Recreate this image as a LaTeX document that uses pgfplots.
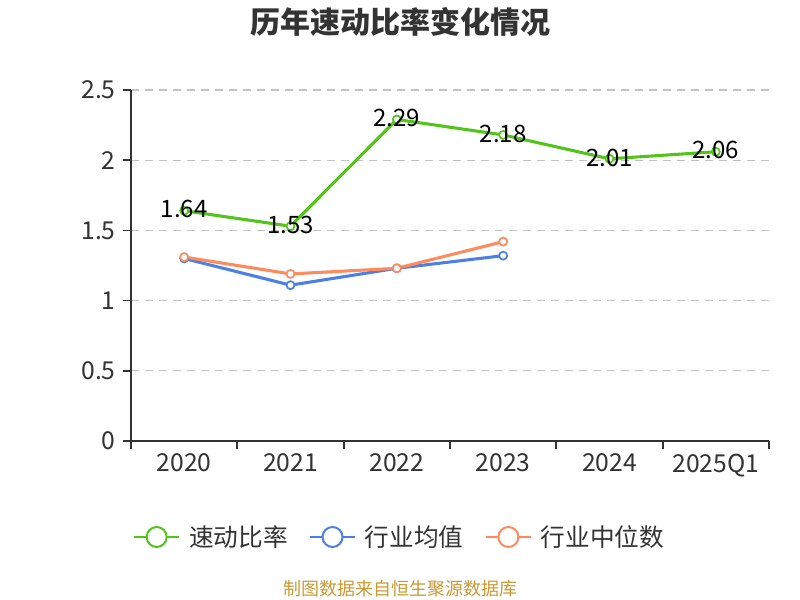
\documentclass[border=0pt]{standalone}
\usepackage{fontspec}
\setmainfont{Noto Sans CJK SC}
\usepackage{pgfplots}
\pgfplotsset{compat=1.18}
\definecolor{cgreen}{RGB}{82,196,26}
\definecolor{cblue}{RGB}{77,128,230}
\definecolor{corange}{RGB}{255,138,92}
\definecolor{ctext}{RGB}{51,51,51}
\definecolor{cgrid}{RGB}{195,195,195}
\definecolor{csrc}{RGB}{204,153,51}
\begin{document}
\begin{tikzpicture}
\path[use as bounding box] (0,0) rectangle (600pt,450pt);
\node[font=\bfseries\fontsize{22.5}{26}\selectfont, text=ctext] at (300pt,433.5pt) {历年速动比率变化情况};
\begin{axis}[
  at={(98.25pt,119.25pt)}, anchor=south west,
  scale only axis, width=478.5pt, height=263.25pt,
  xmin=-0.5, xmax=5.5, ymin=0, ymax=2.5,
  axis x line=bottom, axis y line=left,
  axis line style={ctext, line width=1.3pt, -},
  xtick={0,...,5}, xticklabels={2020,2021,2022,2023,2024,2025Q1},
  minor xtick={-0.5,0.5,...,5.5},
  ytick={0,0.5,...,2.5},
  tick align=outside,
  major tick length=6pt, minor tick length=6pt,
  tick style={ctext, line width=1.3pt},
  major x tick style={draw=none},
  ymajorgrids,
  grid style={cgrid, line width=1pt, dash pattern=on 6pt off 4.5pt},
  /pgf/number format/assume math mode=true,
  ticklabel style={font=\fontsize{18.5}{22}\selectfont, text=ctext},
  yticklabel style={xshift=-2pt},
  legend style={at={(0.4216,-0.2735)}, anchor=center, legend columns=3, draw=none, fill=none,
    font=\fontsize{18.5}{22}\selectfont, text=ctext,
    /tikz/every even column/.append style={column sep=14pt}},
  legend image code/.code={
    \draw[#1, line width=1.5pt] (0pt,0pt) -- (33.75pt,0pt);
    \draw[#1, line width=1.5pt, fill=white] (16.875pt,0pt) circle (7.5pt);
    \path (38pt,0pt);
  },
  clip=false,
]
\addplot[cgreen, line width=2.3pt, mark=*, mark size=3pt, mark options={fill=white, line width=1.3pt},
  nodes near coords, point meta=explicit symbolic,
  nodes near coords style={font=\fontsize{18}{21}\selectfont, text=black, anchor=center, yshift=1pt}]
  coordinates {(0,1.64)[1.64] (1,1.53)[1.53] (2,2.29)[2.29] (3,2.18)[2.18] (4,2.01)[2.01] (5,2.06)[2.06]};
\addlegendentry{速动比率}
\addplot[cblue, line width=2.3pt, mark=*, mark size=3pt, mark options={fill=white, line width=1.3pt}]
  coordinates {(0,1.30) (1,1.11) (2,1.23) (3,1.32)};
\addlegendentry{行业均值}
\addplot[corange, line width=2.3pt, mark=*, mark size=3pt, mark options={fill=white, line width=1.3pt}]
  coordinates {(0,1.31) (1,1.19) (2,1.23) (3,1.42)};
\addlegendentry{行业中位数}
\end{axis}
\node[font=\fontsize{13.5}{16}\selectfont, text=csrc] at (300pt,8.25pt) {制图数据来自恒生聚源数据库};
\end{tikzpicture}
\end{document}
